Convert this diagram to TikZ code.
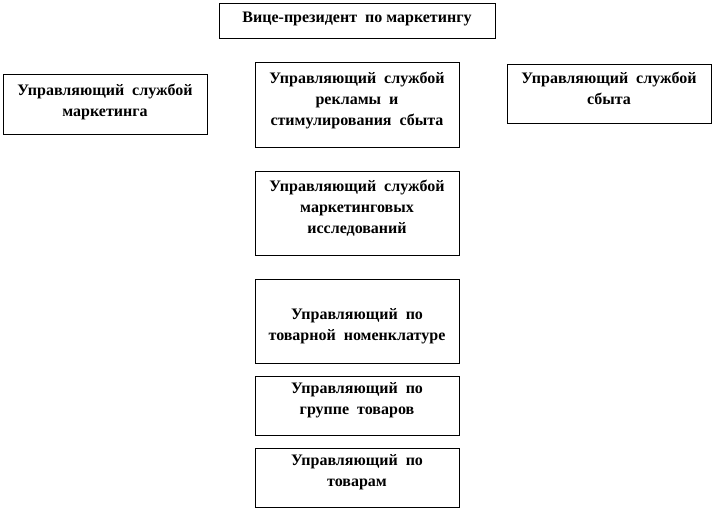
\documentclass[tikz,border=0pt]{standalone}
\usepackage{fontspec}
\setmainfont{Liberation Serif}
\newlength\px
\setlength\px{0.75pt}

\begin{document}
\begin{tikzpicture}[x=0.75pt, y=-0.75pt, line width=0.75pt,
    post/.style={draw, inner sep=0pt, minimum width=204*\px},
    label txt/.style={align=center, inner sep=0pt, font=\fontsize{12}{15.75}\selectfont\bfseries}]
    \useasboundingbox (0,0) rectangle (714,510);

    % boxes
    \node [post, minimum width=276*\px, minimum height=35*\px] (vp) at (357,21.5) {};
    \node [post, minimum height=59*\px] (mark) at (105,104.5) {};
    \node [post, minimum height=84*\px] (rekl) at (357,105) {};
    \node [post, minimum height=58*\px] (sbyt) at (609,94) {};
    \node [post, minimum height=84*\px] (issl) at (357,213) {};
    \node [post, minimum height=84*\px] (nomen) at (357,321) {};
    \node [post, minimum height=59*\px] (gruppa) at (357,405.5) {};
    \node [post, minimum height=59*\px] (tovar) at (357,477.5) {};

    % texts
    \node [label txt] (vp-t) at (357,19) {Вице-президент\ \ по\ маркетингу};
    \node [label txt] (mark-t) at (105,101.5) {Управляющий\ \ службой\\маркетинга};
    \node [label txt] (rekl-t) at (357,100) {Управляющий\ \ службой\\рекламы\ \ и\\стимулирования\ \ сбыта};
    \node [label txt] (sbyt-t) at (609,88.5) {Управляющий\ \ службой\\сбыта};
    \node [label txt] (issl-t) at (357,208) {Управляющий\ \ службой\\маркетинговых\\исследований};
    \node [label txt] (nomen-t) at (357,326) {Управляющий\ \ по\\товарной\ \ номенклатуре};
    \node [label txt] (gruppa-t) at (357,400.5) {Управляющий\ \ по\\группе\ \ товаров};
    \node [label txt] (tovar-t) at (357,472.5) {Управляющий\ \ по\\товарам};
\end{tikzpicture}
\end{document}
